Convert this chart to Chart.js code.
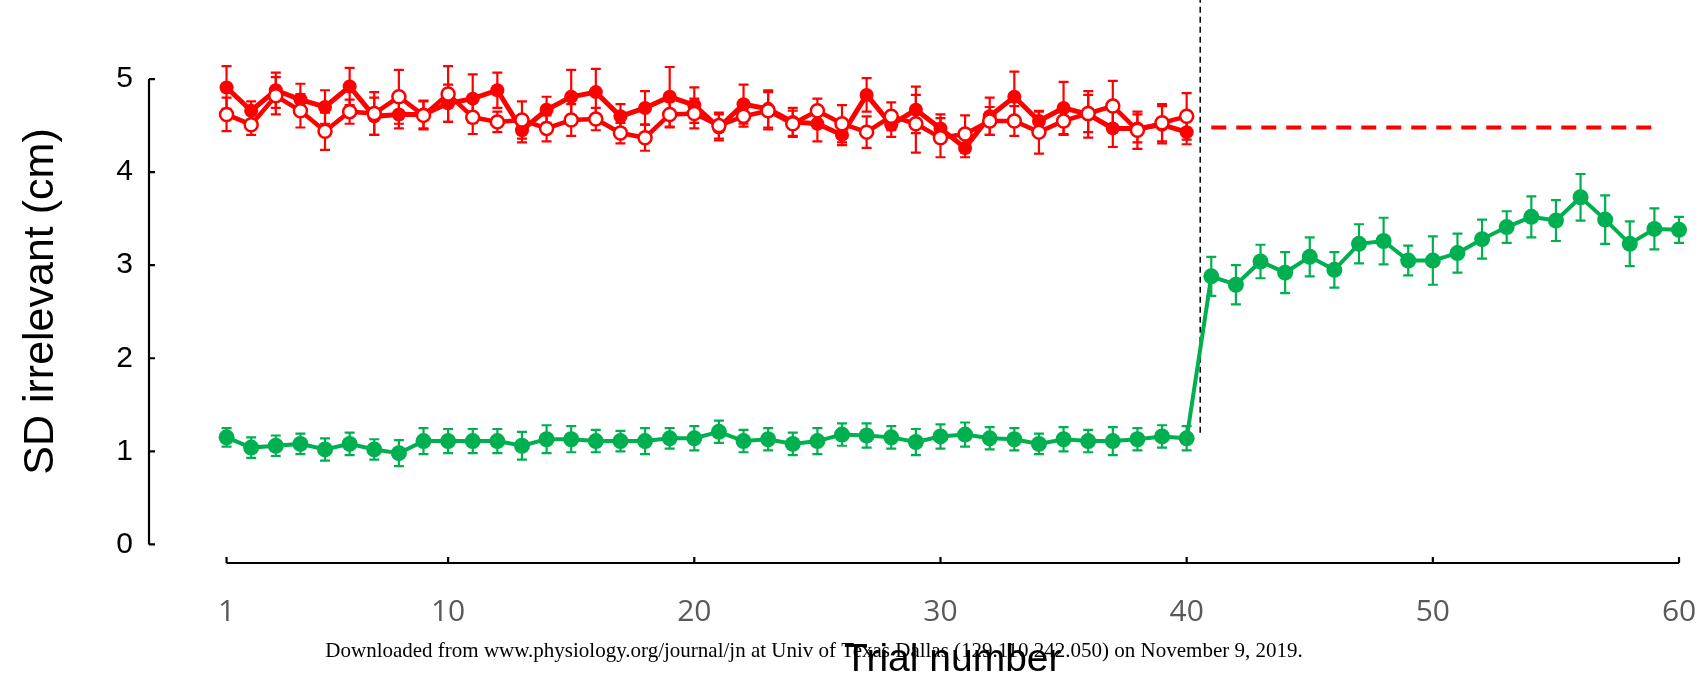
<!DOCTYPE html>
<html>
<head>
<meta charset="utf-8">
<script src="https://cdn.jsdelivr.net/npm/chart.js@4/dist/chart.umd.min.js"></script>
<style>
  html, body { margin: 0; padding: 0; background: #fff; }
</style>
</head>
<body>
<canvas id="sdChart" width="1706" height="680"></canvas>
<script>
// trial numbers
const trials = [1, 2, 3, 4, 5, 6, 7, 8, 9, 10, 11, 12, 13, 14, 15, 16, 17, 18, 19, 20,
  21, 22, 23, 24, 25, 26, 27, 28, 29, 30, 31, 32, 33, 34, 35, 36, 37, 38, 39, 40,
  41, 42, 43, 44, 45, 46, 47, 48, 49, 50, 51, 52, 53, 54, 55, 56, 57, 58, 59, 60];

// red, filled circles (trials 1-40)
const redFilled = [4.91, 4.66, 4.88, 4.78, 4.70, 4.92, 4.60, 4.62, 4.62, 4.74,
  4.79, 4.88, 4.45, 4.67, 4.81, 4.86, 4.60, 4.69, 4.81, 4.72,
  4.48, 4.73, 4.68, 4.54, 4.52, 4.40, 4.83, 4.51, 4.67, 4.47,
  4.26, 4.60, 4.81, 4.55, 4.69, 4.62, 4.47, 4.47, 4.51, 4.43];
const redFilledErr = [0.23, 0.10, 0.19, 0.17, 0.18, 0.20, 0.20, 0.15, 0.15, 0.20,
  0.26, 0.19, 0.13, 0.14, 0.29, 0.25, 0.13, 0.18, 0.32, 0.19,
  0.14, 0.21, 0.20, 0.15, 0.19, 0.11, 0.18, 0.13, 0.25, 0.15,
  0.10, 0.20, 0.27, 0.10, 0.28, 0.25, 0.20, 0.15, 0.20, 0.13];

// red, open circles (trials 1-40)
const redOpen = [4.62, 4.51, 4.82, 4.66, 4.44, 4.65, 4.63, 4.81, 4.61, 4.84,
  4.59, 4.54, 4.56, 4.47, 4.56, 4.57, 4.42, 4.37, 4.62, 4.63,
  4.50, 4.60, 4.66, 4.52, 4.66, 4.52, 4.43, 4.60, 4.52, 4.37,
  4.41, 4.55, 4.55, 4.43, 4.55, 4.63, 4.71, 4.45, 4.53, 4.60];
const redOpenErr = [0.18, 0.11, 0.20, 0.18, 0.20, 0.13, 0.23, 0.29, 0.15, 0.30,
  0.18, 0.11, 0.20, 0.14, 0.17, 0.12, 0.11, 0.14, 0.14, 0.16,
  0.14, 0.11, 0.20, 0.14, 0.13, 0.20, 0.17, 0.15, 0.31, 0.21,
  0.20, 0.15, 0.16, 0.23, 0.15, 0.20, 0.27, 0.20, 0.20, 0.25];

// green (trials 1-60)
const green = [1.15, 1.04, 1.06, 1.08, 1.02, 1.08, 1.02, 0.98, 1.11, 1.11,
  1.11, 1.11, 1.06, 1.13, 1.13, 1.11, 1.11, 1.11, 1.14, 1.14,
  1.21, 1.11, 1.13, 1.08, 1.11, 1.18, 1.17, 1.15, 1.10, 1.16,
  1.18, 1.14, 1.13, 1.08, 1.13, 1.11, 1.11, 1.13, 1.16, 1.14,
  2.88, 2.79, 3.04, 2.92, 3.09, 2.95, 3.23, 3.26, 3.05, 3.05,
  3.13, 3.28, 3.41, 3.52, 3.48, 3.73, 3.49, 3.23, 3.39, 3.38];
const greenErr = [0.10, 0.11, 0.11, 0.11, 0.12, 0.12, 0.11, 0.14, 0.14, 0.13,
  0.13, 0.13, 0.15, 0.15, 0.14, 0.12, 0.11, 0.14, 0.11, 0.13,
  0.12, 0.12, 0.12, 0.12, 0.14, 0.12, 0.13, 0.12, 0.14, 0.13,
  0.13, 0.12, 0.12, 0.11, 0.13, 0.12, 0.15, 0.12, 0.12, 0.13,
  0.21, 0.21, 0.18, 0.22, 0.21, 0.19, 0.21, 0.25, 0.16, 0.26,
  0.21, 0.21, 0.17, 0.22, 0.22, 0.25, 0.26, 0.24, 0.22, 0.14];

// red dashed reference level after trial 40
const refLevelX = [41, 59];
const refLevelY = [4.48, 4.48];
// black dashed separator
const splitX = [40.55, 40.55];
const splitY = [1.2, 5.85];

const xTicks = [1, 10, 20, 30, 40, 50, 60];
const yTicks = [0, 1, 2, 3, 4, 5];
const xTitle = 'Trial number';
const yTitle = 'SD irrelevant (cm)';
const watermark = 'Downloaded from www.physiology.org/journal/jn at Univ of Texas Dallas (129.110.242.050) on November 9, 2019.';

const RED = '#ff0000';
const GREEN = '#00b050';

const pts = (xs, ys) => ys.map((y, i) => ({ x: xs[i], y }));

const errorBars = {
  id: 'errorBars',
  beforeDatasetDraw(chart, args) {
    const ds = chart.data.datasets[args.index];
    if (!ds.errors) return;
    const y = chart.scales.y;
    const ctx = chart.ctx;
    ctx.save();
    ctx.strokeStyle = ds.borderColor;
    ctx.lineWidth = 2.2;
    args.meta.data.forEach((p, i) => {
      const v = ds.data[i].y, e = ds.errors[i];
      const top = y.getPixelForValue(v + e), bot = y.getPixelForValue(v - e);
      ctx.beginPath();
      ctx.moveTo(p.x, top); ctx.lineTo(p.x, bot);
      ctx.moveTo(p.x - 5, top); ctx.lineTo(p.x + 5, top);
      ctx.moveTo(p.x - 5, bot); ctx.lineTo(p.x + 5, bot);
      ctx.stroke();
    });
    ctx.restore();
  }
};

// axes drawn offset from each other, only over the tick range
const offsetAxes = {
  id: 'offsetAxes',
  afterDraw(chart) {
    const { ctx, chartArea, scales: { x, y } } = chart;
    ctx.save();
    ctx.strokeStyle = '#000';
    ctx.lineWidth = 2.2;
    ctx.beginPath();
    const ax = chartArea.left;
    ctx.moveTo(ax, y.getPixelForValue(yTicks[0]));
    ctx.lineTo(ax, y.getPixelForValue(yTicks[yTicks.length - 1]));
    yTicks.forEach(t => {
      const py = y.getPixelForValue(t);
      ctx.moveTo(ax, py); ctx.lineTo(ax + 6, py);
    });
    const ay = chartArea.bottom;
    const x0 = x.getPixelForValue(xTicks[0]);
    const x1 = x.getPixelForValue(xTicks[xTicks.length - 1]);
    ctx.moveTo(x0, ay); ctx.lineTo(x1, ay);
    xTicks.forEach(t => {
      const px = x.getPixelForValue(t);
      ctx.moveTo(px, ay); ctx.lineTo(px, ay - 6);
    });
    ctx.stroke();

    ctx.fillStyle = '#000';
    ctx.textAlign = 'center';
    ctx.textBaseline = 'middle';
    ctx.font = '39px "Liberation Sans", Arial, sans-serif';
    ctx.fillText(xTitle, (x0 + x1) / 2, 660);
    ctx.font = '21px "Liberation Serif", "Times New Roman", serif';
    ctx.fillText(watermark, 814, 651);
    ctx.restore();
  }
};

new Chart(document.getElementById('sdChart'), {
  type: 'line',
  data: {
    datasets: [
      {
        data: pts(refLevelX, refLevelY),
        borderColor: RED,
        borderWidth: 4,
        borderDash: [15, 10],
        pointRadius: 0,
        order: 5
      },
      {
        data: pts(splitX, splitY),
        borderColor: '#000',
        borderWidth: 1.5,
        borderDash: [6, 4],
        pointRadius: 0,
        clip: false,
        order: 4
      },
      {
        data: pts(trials, green),
        errors: greenErr,
        borderColor: GREEN,
        backgroundColor: GREEN,
        borderWidth: 4,
        pointRadius: 8,
        pointBorderWidth: 0,
        order: 3
      },
      {
        data: pts(trials, redFilled),
        errors: redFilledErr,
        borderColor: RED,
        backgroundColor: RED,
        borderWidth: 5,
        pointRadius: 7,
        pointBorderWidth: 0,
        order: 2
      },
      {
        data: pts(trials, redOpen),
        errors: redOpenErr,
        borderColor: RED,
        backgroundColor: '#fff',
        borderWidth: 4.5,
        pointRadius: 6.5,
        pointBorderWidth: 2.5,
        order: 1
      }
    ]
  },
  options: {
    responsive: false,
    animation: false,
    layout: { padding: { top: 40, left: 0, right: 0, bottom: 0 } },
    plugins: { legend: { display: false }, tooltip: { enabled: false } },
    scales: {
      x: {
        type: 'linear',
        min: -2.15,
        max: 60.73,
        grid: { display: false, drawTicks: false },
        border: { display: false },
        afterBuildTicks: s => { s.ticks = xTicks.map(v => ({ value: v })); },
        afterFit: s => { s.height = 117; s.paddingLeft = 0; s.paddingRight = 0; },
        ticks: {
          padding: 31,
          color: '#595959',
          font: { family: '"Open Sans", sans-serif', size: 30 }
        }
      },
      y: {
        min: -0.2,
        max: 5.42,
        grid: { display: false, drawTicks: false },
        border: { display: false },
        afterBuildTicks: s => { s.ticks = yTicks.map(v => ({ value: v })); },
        afterFit: s => { s.width = 149; s.paddingTop = 0; s.paddingBottom = 0; },
        ticks: {
          padding: 16,
          color: '#000',
          font: { family: '"Liberation Sans", Arial, sans-serif', size: 30 }
        },
        title: {
          display: true,
          text: yTitle,
          color: '#000',
          font: { family: '"Liberation Sans", Arial, sans-serif', size: 43 },
          padding: { top: 15, bottom: 0 }
        }
      }
    }
  },
  plugins: [errorBars, offsetAxes]
});
</script>
</body>
</html>
